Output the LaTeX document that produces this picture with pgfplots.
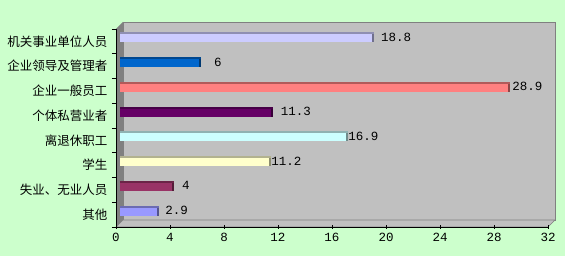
\documentclass[border=0pt]{standalone}
\usepackage{fontspec}
\setmainfont{Noto Sans CJK SC}
\newfontfamily\numfont{Liberation Mono}
\usepackage{pgfplots}
\pgfplotsset{compat=1.18}
\definecolor{bg}{HTML}{CCFFCC}
\definecolor{wall}{HTML}{C0C0C0}
\definecolor{side}{HTML}{808080}
\definecolor{edge}{HTML}{808080}
\definecolor{c1}{HTML}{CCCCFF}
\definecolor{c2}{HTML}{0066CC}
\definecolor{c3}{HTML}{FF8080}
\definecolor{c4}{HTML}{660066}
\definecolor{c5}{HTML}{CCFFFF}
\definecolor{c6}{HTML}{FFFFCC}
\definecolor{c7}{HTML}{993366}
\definecolor{c8}{HTML}{9999FF}
\pgfplotsset{lab/.style={nodes near coords, every node near coord/.append style={font=\numfont\fontsize{12.5}{14}\selectfont, anchor=west, inner sep=0pt, xshift=#1, text=black}}}
% value, y, short value, colour, label gap
\newcommand\hbarx[5]{%
\addplot[fill=#4!55!black, draw=none, lab=#5] coordinates {(#1,#2)};
\addplot[fill=#4, draw=none] coordinates {(#3,#2)};
\addplot[fill=#4!70!black, draw=none, bar width=2pt, bar shift=4pt] coordinates {(#1,#2)};
}
\begin{document}
\begin{tikzpicture}[x=1pt,y=1pt]
\fill[bg] (0,0) rectangle (565,256);
\filldraw[fill=wall,draw=edge,line width=0.6pt] (123,36) rectangle (555,234);
\filldraw[fill=wall,draw=edge,line width=0.6pt] (116,29) -- (548,29) -- (555,36) -- (123,36) -- cycle;
\fill[side] (116,29) -- (123,36) -- (123,234) -- (116,227) -- cycle;
\begin{axis}[at={(116pt,29pt)}, anchor=south west, scale only axis,
  width=432pt, height=198pt,
  xmin=0, xmax=32, ymin=0.5, ymax=8.5,
  xtick={0,4,...,32}, ytick={1,...,8},
  yticklabels={其他,失业、无业人员,学生,离退休职工,个体私营业者,企业一般员工,企业领导及管理者,机关事业单位人员},
  minor ytick={0.5,1.5,...,8.5},
  axis x line*=bottom, axis y line*=left,
  axis line style={black,-,line width=0.8pt},
  tick style={black,line width=0.6pt},
  major tick length=4pt, minor tick length=4pt,
  major y tick style={draw=none},
  tick align=center,
  /pgf/number format/assume math mode=true,
  xticklabel style={font=\numfont\fontsize{12.5}{14}\selectfont, yshift=-1pt},
  yticklabel style={font=\fontsize{12.5}{14}\selectfont, xshift=-1pt},
  xbar, bar width=10pt, bar shift=0pt,
  every axis plot/.append style={xshift=4pt, yshift=4pt},
  clip=false]
\hbarx{18.8}{8}{18.65}{c1}{7pt}
\hbarx{6}{7}{5.85}{c2}{13pt}
\hbarx{28.9}{6}{28.75}{c3}{2pt}
\hbarx{11.3}{5}{11.15}{c4}{8pt}
\hbarx{16.9}{4}{16.75}{c5}{0pt}
\hbarx{11.2}{3}{11.05}{c6}{0pt}
\hbarx{4}{2}{3.85}{c7}{8pt}
\hbarx{2.9}{1}{2.75}{c8}{6pt}
\end{axis}
\pgfresetboundingbox
\path (0,0) rectangle (565,256);
\end{tikzpicture}
\end{document}
